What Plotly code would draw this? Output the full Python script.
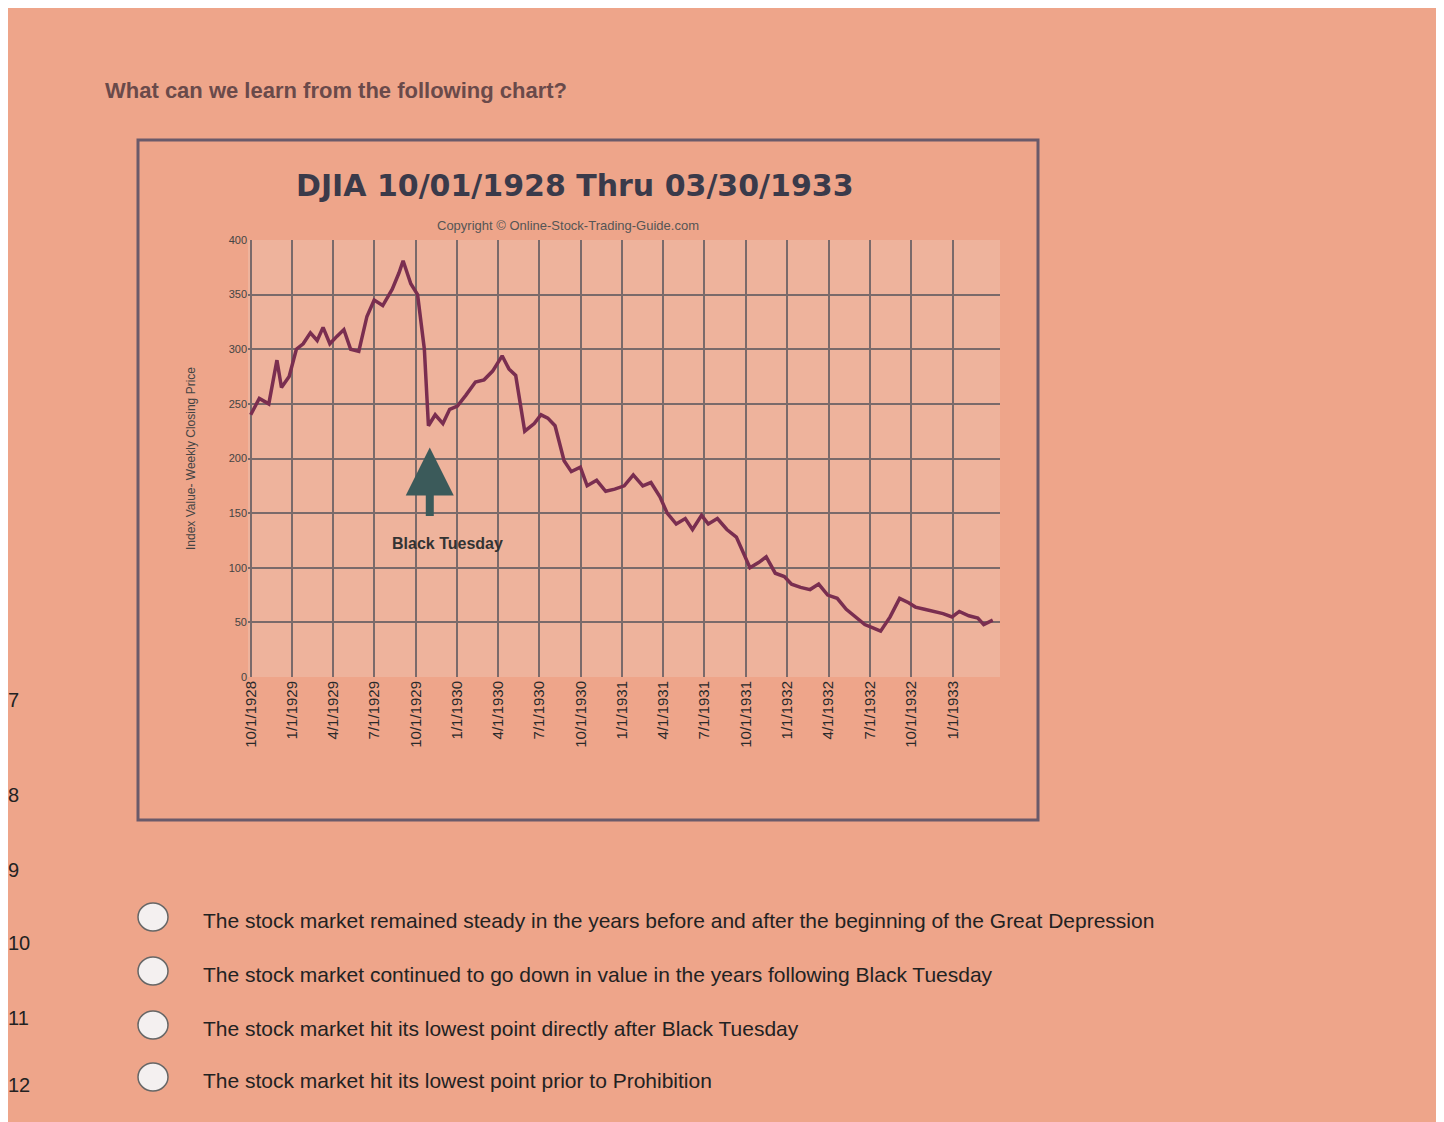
import plotly.graph_objects as go

dates = ["1928-10-01","1928-10-20","1928-11-10","1928-11-28","1928-12-08","1928-12-25","1929-01-10","1929-01-25","1929-02-10","1929-02-25","1929-03-10","1929-03-25","1929-04-10","1929-04-25","1929-05-10","1929-05-28","1929-06-15","1929-07-01","1929-07-20","1929-08-10","1929-08-25","1929-09-03","1929-09-20","1929-10-05","1929-10-20","1929-10-29","1929-11-13","1929-11-30","1929-12-15","1930-01-01","1930-01-20","1930-02-10","1930-03-01","1930-03-20","1930-04-10","1930-04-25","1930-05-10","1930-05-30","1930-06-20","1930-07-05","1930-07-20","1930-08-05","1930-08-25","1930-09-10","1930-09-30","1930-10-15","1930-11-05","1930-11-25","1930-12-15","1931-01-05","1931-01-25","1931-02-15","1931-03-05","1931-03-25","1931-04-10","1931-04-30","1931-05-20","1931-06-05","1931-06-25","1931-07-10","1931-07-30","1931-08-20","1931-09-10","1931-09-30","1931-10-10","1931-10-30","1931-11-15","1931-12-05","1931-12-25","1932-01-10","1932-01-30","1932-02-20","1932-03-10","1932-03-30","1932-04-20","1932-05-10","1932-05-30","1932-06-20","1932-07-08","1932-07-25","1932-08-15","1932-09-05","1932-09-25","1932-10-10","1932-10-30","1932-11-20","1932-12-10","1932-12-30","1933-01-15","1933-02-05","1933-02-25","1933-03-10","1933-03-30"]
values = [240,255,250,290,265,275,300,305,315,308,320,305,312,318,300,298,330,345,340,355,370,381,360,350,300,230,240,232,245,248,258,270,272,280,294,282,276,225,232,240,237,230,198,188,192,175,180,170,172,175,185,175,178,165,150,140,145,135,148,140,145,135,128,110,100,105,110,95,92,85,82,80,85,75,72,62,55,48,45,42,55,72,68,64,62,60,58,55,60,56,54,48,52]

tickdates = ["1928-10-01","1929-01-01","1929-04-01","1929-07-01","1929-10-01","1930-01-01","1930-04-01","1930-07-01","1930-10-01","1931-01-01","1931-04-01","1931-07-01","1931-10-01","1932-01-01","1932-04-01","1932-07-01","1932-10-01","1933-01-01"]
ticklabels = ["10/1/1928","1/1/1929","4/1/1929","7/1/1929","10/1/1929","1/1/1930","4/1/1930","7/1/1930","10/1/1930","1/1/1931","4/1/1931","7/1/1931","10/1/1931","1/1/1932","4/1/1932","7/1/1932","10/1/1932","1/1/1933"]

answers = ["The stock market remained steady in the years before and after the beginning of the Great Depression",
           "The stock market continued to go down in value in the years following Black Tuesday",
           "The stock market hit its lowest point directly after Black Tuesday",
           "The stock market hit its lowest point prior to Prohibition"]
rownums = ["7","8","9","10","11","12"]

fig = go.Figure(go.Scatter(x=dates, y=values, mode="lines", line=dict(color="#7a2e50", width=3.5)))

W, H = 1444, 1122
L, T, PW, PH = 240, 232, 752, 437
def px(x): return (x - 10 - L) / PW
def py(y): return (T + PH - (y - 8)) / PH

fig.update_layout(
    width=W, height=H, showlegend=False,
    paper_bgcolor="#eea58a", plot_bgcolor="#eeb39c",
    margin=dict(l=L, r=W-L-PW, t=T, b=H-T-PH),
    font=dict(family="Liberation Sans", color="#3a3a3a"),
    xaxis=dict(range=["1928-09-25","1933-04-15"], tickvals=tickdates, ticktext=ticklabels, tickangle=-90,
               showgrid=True, gridcolor="#7a6a6a", gridwidth=1.5, tickfont=dict(size=15, color="#2a2a2a"), showline=False),
    yaxis=dict(range=[0,400], dtick=50, showgrid=True, gridcolor="#7a6a6a", gridwidth=1.5, zeroline=False,
               tickfont=dict(size=11, color="#444"),
               title=dict(text="Index Value- Weekly Closing Price", font=dict(size=12, color="#444"), standoff=30)),
)
fig.add_shape(type="rect", xref="paper", yref="paper", x0=px(140), x1=px(1040), y0=py(820), y1=py(140),
              line=dict(color="#6a5a6a", width=3), layer="below")
def note(x, y, text, size, color, xa="center", family=None):
    f = dict(size=size, color=color)
    if family: f["family"] = family
    fig.add_annotation(xref="paper", yref="paper", x=px(x), y=py(y), xanchor=xa, yanchor="middle",
                       text=text, showarrow=False, font=f)
note(577, 186, "<b>DJIA 10/01/1928 Thru 03/30/1933</b>", 30, "#3a3a4a", family="DejaVu Sans")
note(570, 225, "Copyright © Online-Stock-Trading-Guide.com", 13, "#555")
fig.add_annotation(x="1929-11-01", y=210, ax=0, ay=70, text="", showarrow=True, arrowhead=2, arrowsize=1.2,
                   arrowwidth=8, arrowcolor="#3b5a5a")
fig.add_annotation(x="1929-12-10", y=122, text="<b>Black Tuesday</b>", showarrow=False, font=dict(size=16, color="#333"))
note(105, 90, "<b>What can we learn from the following chart?</b>", 22, "#6a4a4a", xa="left")
ys = [920, 974, 1028, 1080]
for t, yp in zip(answers, ys):
    note(203, yp, t, 21, "#222", xa="left")
    fig.add_shape(type="circle", xref="paper", yref="paper", x0=px(140), x1=px(170),
                  y0=py(yp-3)-14/PH, y1=py(yp-3)+14/PH, line=dict(color="#666", width=1.5), fillcolor="#f4f0f0")
for n, yp in zip(rownums, [700, 795, 870, 943, 1018, 1085]):
    note(8, yp, n, 20, "#222", xa="left")
fig.write_html("out.html")
